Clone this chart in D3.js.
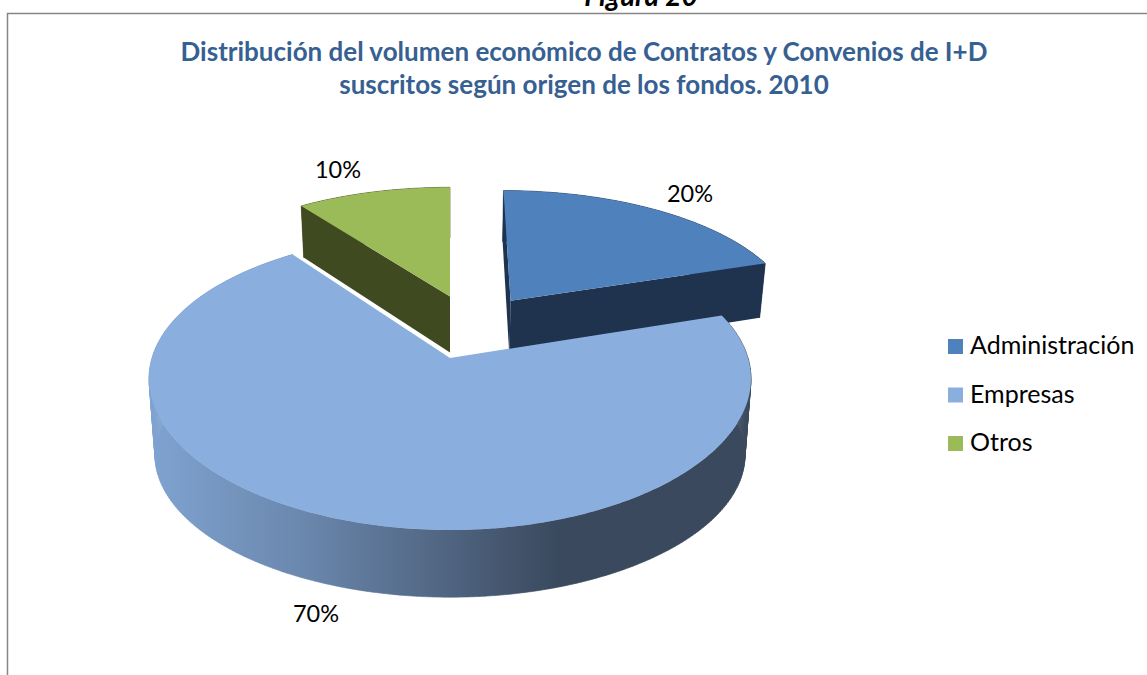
<!DOCTYPE html>
<html>
<head>
<meta charset="utf-8">
<script src="https://cdnjs.cloudflare.com/ajax/libs/d3/7.8.5/d3.min.js"></script>
<style>
  html, body { margin: 0; padding: 0; background: #fff; }
  svg { display: block; font-family: Lato, "Open Sans", sans-serif; }
</style>
</head>
<body>
<script>
// data
var categories = ["Administración", "Empresas", "Otros"];
var values = [20, 70, 10];
var titleLines = ["Distribución del volumen económico de Contratos y Convenios de I+D",
                  "suscritos según origen de los fondos. 2010"];
var topColors = ["#4f81bd", "#8aafde", "#9bbb59"];
var wallColors = ["#1f324e", "#8aafde", "#3f4a20"];

var w = 1147, h = 675;
var svg = d3.select("body").append("svg").attr("width", w).attr("height", h);

// frame, cut off by the window on the right and at the bottom
svg.append("path")
  .attr("d", "M7.5," + h + "V13.5H" + w)
  .attr("fill", "none")
  .attr("stroke", "#868686")
  .attr("stroke-width", 1.5);

// the reference has this caption cut by the top of the page too
svg.append("text")
  .text("Figura 20")
  .attr("x", 641).attr("y", 6)
  .attr("text-anchor", "middle")
  .attr("font-size", 28).attr("font-weight", "bold").attr("font-style", "italic")
  .attr("fill", "#000");

svg.selectAll("text.title")
  .data(titleLines)
  .enter()
  .append("text")
  .attr("class", "title")
  .text(function(d) { return d; })
  .attr("x", 584)
  .attr("y", function(d, i) { return 61 + i * 33; })
  .attr("text-anchor", "middle")
  .attr("font-size", 26).attr("font-weight", "bold")
  .attr("fill", "#376092");

// pie angles, clockwise from the top
var arcs = d3.pie().sort(null).value(function(d) { return d; })(values);

// perspective ground plane, the big slice apex sits at the origin
var cx = 450, cy = 358, R = 298, squash = 144.5;
var k = 0.16, kx = 0.14, drop = 0.02, explode = 0.24;
// wall height and narrowing of the underside, per slice
var wallDepth = [60, 80, 60], wallTaper = [0, 0.13, 0];

function dir(a) { return [Math.sin(a), -Math.cos(a)]; }
function mid(d) { return (d.startAngle + d.endAngle) / 2; }

function project(X, Y, Z, i) {
  return [cx + R * X / (1 - kx * Y + drop * Z),
          cy + (squash * Y * (1 - wallTaper[i] * Z) + wallDepth[i] * Z) / (1 - k * Y + drop * Z)];
}

var base = dir(mid(arcs[1]));
function offset(d) {
  var m = dir(mid(d));
  return [explode * (m[0] - base[0]), explode * (m[1] - base[1])];
}

function rim(d, Z) {
  var o = offset(d), n = Math.ceil((d.endAngle - d.startAngle) * 60);
  return d3.range(n + 1).map(function(i) {
    var v = dir(d.startAngle + (d.endAngle - d.startAngle) * i / n);
    return project(o[0] + v[0], o[1] + v[1], Z, d.index);
  });
}
function apex(d, Z) {
  var o = offset(d);
  return project(o[0], o[1], Z, d.index);
}
function edge(d, a) {
  var o = offset(d), v = dir(a);
  return [apex(d, 0), project(o[0] + v[0], o[1] + v[1], 0, d.index),
          project(o[0] + v[0], o[1] + v[1], 1, d.index), apex(d, 1)];
}

var line = d3.line();

var grad = svg.append("defs").append("linearGradient")
  .attr("id", "wall")
  .attr("gradientUnits", "userSpaceOnUse")
  .attr("x1", 149).attr("x2", 751).attr("y1", 0).attr("y2", 0);
[[0, "#7fa3d1"], [0.25, "#6b88ae"], [0.5, "#4f6480"], [0.68, "#3a495d"], [1, "#3a495d"]].forEach(function(s) {
  grad.append("stop").attr("offset", s[0]).attr("stop-color", s[1]);
});

// back to front: the big slice goes last because it covers the other two
var order = [0, 2, 1];
order.forEach(function(i) {
  var d = arcs[i], g = svg.append("g");
  var wallFill = i === 1 ? "url(#wall)" : wallColors[i];
  // the wall folds at the sides, so it is filled one quad at a time
  var upper = rim(d, 0), lower = rim(d, 1);
  var quads = d3.range(upper.length - 1).map(function(j) {
    return line([upper[j], upper[j + 1], lower[j + 1], lower[j]]) + "Z";
  });
  g.append("path")
    .attr("d", quads.join(""))
    .attr("fill", wallFill)
    .attr("stroke", wallFill)
    .attr("stroke-width", 0.6);
  if (i !== 1) {
    [d.startAngle, d.endAngle].forEach(function(a) {
      g.append("path").attr("d", line(edge(d, a)) + "Z").attr("fill", wallColors[i]);
    });
  }
  g.append("path")
    .attr("d", line([apex(d, 0)].concat(upper)) + "Z")
    .attr("fill", topColors[i]);
});

// data labels
var labelPos = [[690, 202], [316, 622], [338, 178]];
svg.selectAll("text.label")
  .data(values)
  .enter()
  .append("text")
  .attr("class", "label")
  .text(function(d) { return d + "%"; })
  .attr("x", function(d, i) { return labelPos[i][0]; })
  .attr("y", function(d, i) { return labelPos[i][1]; })
  .attr("text-anchor", "middle")
  .attr("font-size", 23.5)
  .attr("fill", "#000");

// legend
var legend = svg.selectAll("g.legend")
  .data(categories)
  .enter()
  .append("g")
  .attr("class", "legend")
  .attr("transform", function(d, i) { return "translate(948," + (339 + i * 48.5) + ")"; });
legend.append("rect")
  .attr("width", 15).attr("height", 15)
  .attr("fill", function(d, i) { return topColors[i]; });
legend.append("text")
  .text(function(d) { return d; })
  .attr("x", 22).attr("y", 15)
  .attr("font-size", 25)
  .attr("fill", "#000");
</script>
</body>
</html>
